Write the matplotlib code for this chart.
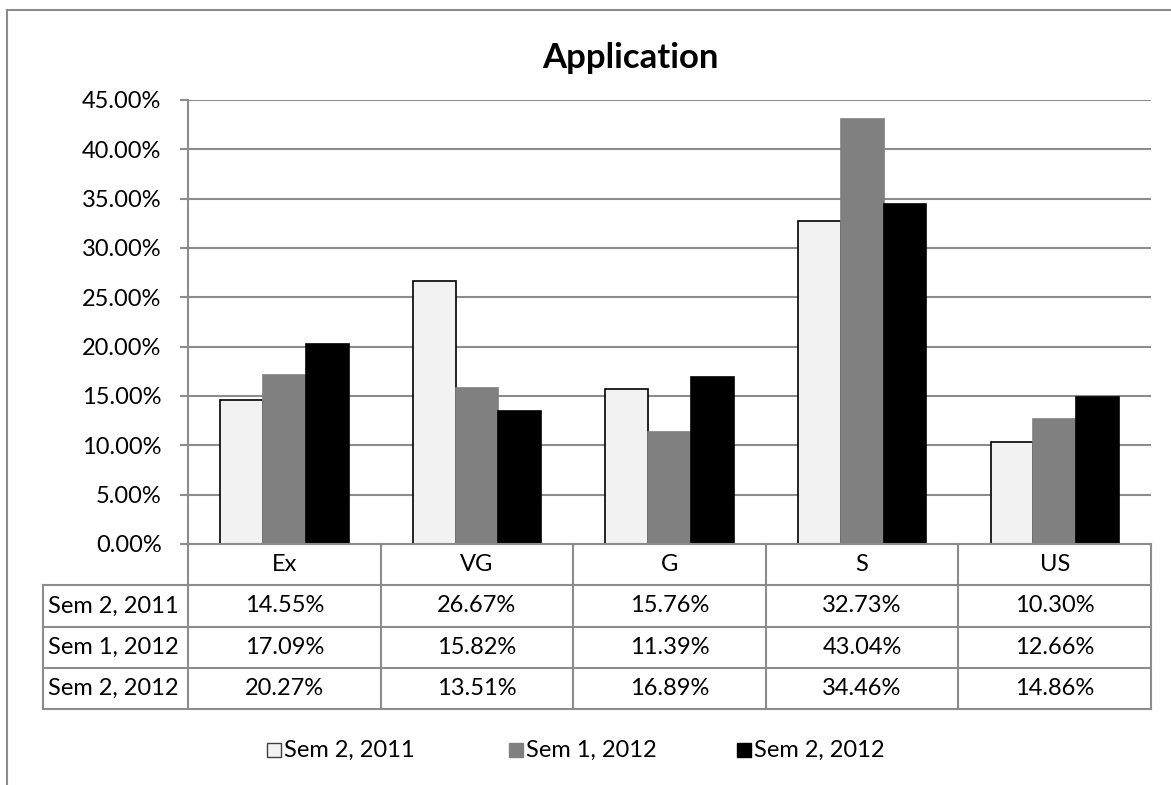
import matplotlib
matplotlib.use("Agg")
import matplotlib.pyplot as plt
from matplotlib.lines import Line2D
from matplotlib.patches import Rectangle
from matplotlib.ticker import FuncFormatter, MultipleLocator
import numpy as np

categories = ["Ex", "VG", "G", "S", "US"]
series_names = ["Sem 2, 2011", "Sem 1, 2012", "Sem 2, 2012"]
sem2_2011 = [14.55, 26.67, 15.76, 32.73, 10.30]
sem1_2012 = [17.09, 15.82, 11.39, 43.04, 12.66]
sem2_2012 = [20.27, 13.51, 16.89, 34.46, 14.86]
series = [sem2_2011, sem1_2012, sem2_2012]
colors = ["#F2F2F2", "#808080", "#000000"]
edges = ["#000000", "#808080", "#000000"]

FONT = "Lato"
FS = 17
GRID = "#8C8C8C"
plt.rcParams["font.family"] = [FONT, "DejaVu Sans"]

W, H = 1171, 785
fig = plt.figure(figsize=(W / 100, H / 100), dpi=100)

def fx(px):
    return px / W

def fy(py):
    return 1 - py / H

# outer chart frame (left and top visible)
fig.add_artist(Line2D([fx(7), fx(7)], [fy(10), 0], color=GRID, lw=1.5))
fig.add_artist(Line2D([fx(7), 1], [fy(10), fy(10)], color=GRID, lw=1.5))

L, R, T, B = 188, 1151, 100, 544
ax = fig.add_axes([fx(L), fy(B), fx(R) - fx(L), fy(T) - fy(B)])
n = len(categories)
x = np.arange(n)
bw = 1 / 4.5
for i, (vals, c, e) in enumerate(zip(series, colors, edges)):
    ax.bar(x + (i - 1) * bw, vals, width=bw, color=c, edgecolor=e,
           linewidth=1.2, zorder=3)
ax.set_xlim(-0.5, n - 0.5)
ax.set_ylim(0, 45)
ax.yaxis.set_major_locator(MultipleLocator(5))
ax.yaxis.set_major_formatter(FuncFormatter(lambda v, p: f"{v:.2f}%"))
ax.grid(axis="y", color=GRID, lw=1.5, zorder=0)
ax.set_xticks([])
for s in ["top", "right", "bottom"]:
    ax.spines[s].set_visible(False)
ax.spines["left"].set_color(GRID)
ax.spines["left"].set_linewidth(1.5)
ax.tick_params(axis="y", length=6, width=1.5, color=GRID, pad=13,
               labelsize=FS)

# data table
TB = 709
tax = fig.add_axes([fx(L), fy(TB), fx(R) - fx(L), fy(B) - fy(TB)])
tax.set_xlim(-0.5, n - 0.5)
tax.set_ylim(4, 0)
tax.axis("off")
left_ext = -0.5 - (L - 43) / ((R - L) / n)
lk = dict(color=GRID, lw=1.5, clip_on=False)
# horizontal lines
tax.plot([-0.5, n - 0.5], [0, 0], **lk)
for yy in [1, 2, 3, 4]:
    tax.plot([left_ext, n - 0.5], [yy, yy], **lk)
# vertical lines
tax.plot([left_ext, left_ext], [1, 4], **lk)
for xx in np.arange(n + 1) - 0.5:
    tax.plot([xx, xx], [0, 4], **lk)
for j, cat in enumerate(categories):
    tax.text(j, 0.5, cat, ha="center", va="center", fontsize=FS)
for i, (name, vals) in enumerate(zip(series_names, series)):
    tax.text(left_ext + 0.025, i + 1.5, name, ha="left", va="center",
             fontsize=FS)
    for j, v in enumerate(vals):
        tax.text(j, i + 1.5, f"{v:.2f}%", ha="center", va="center",
                 fontsize=FS)

# title
fig.text(fx(630), fy(58), "Application", ha="center", va="center",
         fontsize=25, fontweight="bold")

# legend
ly = 750
sq = 14
for (xs, name, c, e) in [(267, series_names[0], colors[0], "#404040"),
                         (509, series_names[1], colors[1], colors[1]),
                         (737, series_names[2], colors[2], colors[2])]:
    fig.add_artist(Rectangle((fx(xs), fy(ly + sq / 2)), fx(sq), sq / H,
                             facecolor=c, edgecolor=e, lw=1.0))
    fig.text(fx(xs + sq + 3), fy(ly), name, ha="left", va="center",
             fontsize=FS)

fig.savefig("out.png", dpi=100)
